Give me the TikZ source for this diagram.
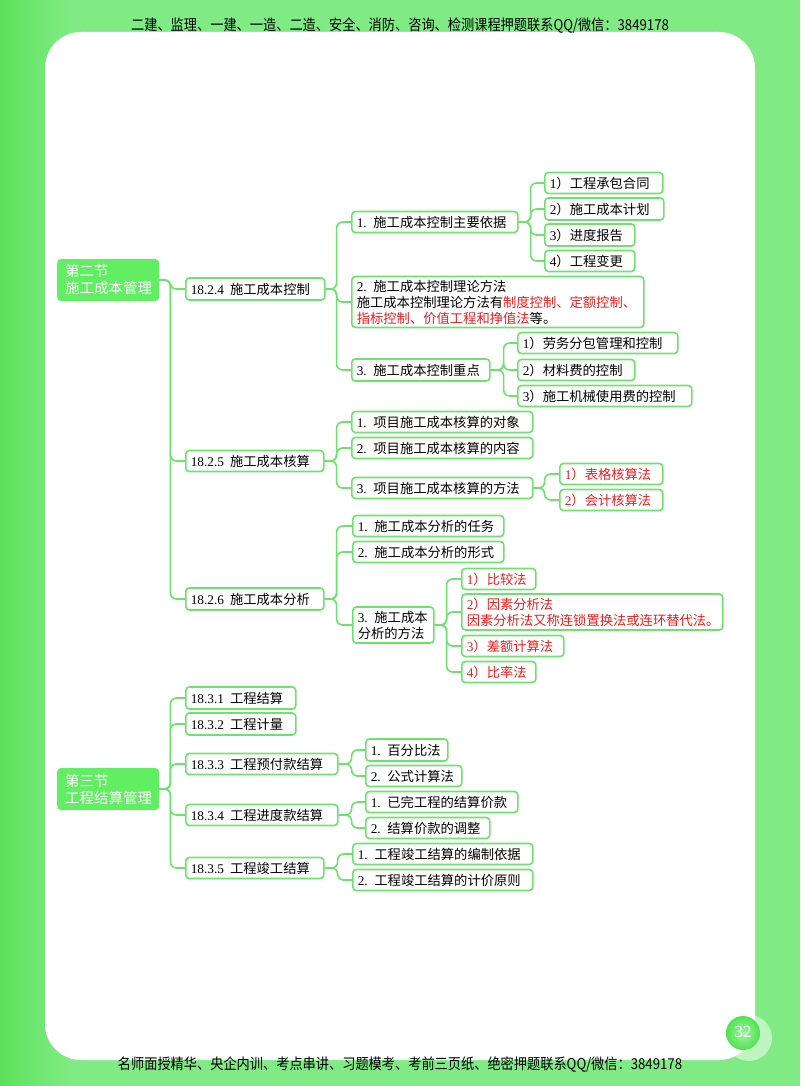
\documentclass[tikz,border=0pt]{standalone}
\usepackage{fontspec}
\setmainfont{Noto Sans CJK SC}
\newfontfamily\lat{Liberation Serif}
\usetikzlibrary{calc}
\definecolor{bgg}{RGB}{128,235,132}
\definecolor{bgd}{RGB}{92,225,92}
\definecolor{bd}{RGB}{108,228,108}
\definecolor{lvz}{RGB}{98,238,98}
\definecolor{pgc}{RGB}{80,226,80}
\definecolor{rd}{RGB}{238,30,30}
\pgfdeclarelayer{back}
\pgfdeclarelayer{lines}
\pgfsetlayers{back,lines,main}
\newcommand\rtx[1]{\textcolor{rd}{#1}}
\newcommand\linkto[3]{\draw[cn] (#1.east) -- ++(#3,0) |- (#2.west);}
\tikzset{
  bx/.style={draw=bd, fill=white, line width=1.6pt, rounded corners=3.5pt, anchor=west,
    align=left, inner xsep=5pt, inner ysep=0pt, text=black,
    font=\fontsize{13.3}{16}\selectfont},
  rbx/.style={bx, text=rd},
  top/.style={fill=lvz, rounded corners=4pt, anchor=west, align=left, inner xsep=8pt,
    inner ysep=0pt, text=white, font=\fontsize{14.5}{17}\selectfont},
  cn/.style={draw=bd, line width=1.6pt, rounded corners=6pt},
  band/.style={font=\fontsize{15}{15}\selectfont, xscale=0.88, text=black}
}
\begin{document}
\begin{tikzpicture}[x=1pt,y=-1pt]
\useasboundingbox (0,0) rectangle (800,1086);
\begin{pgfonlayer}{back}
% background
\fill[bgg] (0,0) rectangle (800,1086);
\shade[left color=bgd, right color=bgg] (0,0) rectangle (70,1086);
\fill[white] (45,32) [rounded corners=36pt] rectangle (755,1060);
% page number
\fill[white, opacity=0.5] (749,1038) circle (23);
\shade[inner color=lvz!60!white, outer color=pgc] (743,1033) circle (17);
\end{pgfonlayer}
% header / footer
\node[band] (hdr) at (400,25) {二建、监理、一建、一造、二造、安全、消防、咨询、检测课程押题联系QQ/微信：3849178};
\node[band] (ftr) at (400,1064) {名师面授精华、央企内训、考点串讲、习题模考、考前三页纸、绝密押题联系QQ/微信：3849178};
\node[text=white, font=\lat\fontsize{17}{17}\selectfont] (pg) at (743,1032) {32};

% ===== 第二节 =====
\node[top, text width=86pt, minimum height=42pt] (s2) at (57,280) {第二节\\施工成本管理};
\node[bx, text width=129pt, minimum height=22pt] (a1) at (185,289) {{\lat 18.2.4}\hspace{6pt}施工成本控制};
\node[bx, text width=128pt, minimum height=21pt] (a2) at (185,461) {{\lat 18.2.5}\hspace{6pt}施工成本核算};
\node[bx, text width=128pt, minimum height=22pt] (a3) at (185,599) {{\lat 18.2.6}\hspace{6pt}施工成本分析};

\node[bx, text width=156pt, minimum height=21pt] (b1) at (351,222) {{\lat 1.} 施工成本控制主要依据};
\node[bx, text width=282pt, minimum height=51pt] (b2) at (351,302) {{\lat 2.} 施工成本控制理论方法\\施工成本控制理论方法有\rtx{制度控制、定额控制、}\\\rtx{指标控制、价值工程和挣值法}等。};
\node[bx, text width=128pt, minimum height=22pt] (b3) at (351,370) {{\lat 3.} 施工成本控制重点};

\node[bx, text width=108pt, minimum height=21pt] (c1) at (544,183) {{\lat 1}）工程承包合同};
\node[bx, text width=109pt, minimum height=22pt] (c2) at (544,209) {{\lat 2}）施工成本计划};
\node[bx, text width=80pt, minimum height=22pt] (c3) at (544,235) {{\lat 3}）进度报告};
\node[bx, text width=80pt, minimum height=21pt] (c4) at (544,261) {{\lat 4}）工程变更};

\node[bx, text width=150pt, minimum height=21pt] (d1) at (517,343) {{\lat 1}）劳务分包管理和控制};
\node[bx, text width=107pt, minimum height=21pt] (d2) at (517,370) {{\lat 2}）材料费的控制};
\node[bx, text width=164pt, minimum height=21pt] (d3) at (517,396) {{\lat 3}）施工机械使用费的控制};

\node[bx, text width=171pt, minimum height=21pt] (e1) at (351,422) {{\lat 1.} 项目施工成本核算的对象};
\node[bx, text width=171pt, minimum height=21pt] (e2) at (351,448) {{\lat 2.} 项目施工成本核算的内容};
\node[bx, text width=171pt, minimum height=21pt] (e3) at (351,488) {{\lat 3.} 项目施工成本核算的方法};

\node[rbx, text width=93pt, minimum height=21pt] (f1) at (559,474) {{\lat 1}）表格核算法};
\node[rbx, text width=93pt, minimum height=21pt] (f2) at (559,500) {{\lat 2}）会计核算法};

\node[bx, text width=141pt, minimum height=21pt] (g1) at (352,526) {{\lat 1.} 施工成本分析的任务};
\node[bx, text width=141pt, minimum height=21pt] (g2) at (352,552) {{\lat 2.} 施工成本分析的形式};
\node[bx, text width=71pt, minimum height=36pt] (g3) at (352,625) {{\lat 3.} 施工成本\\分析的方法};

\node[rbx, text width=64pt, minimum height=21pt] (h1) at (461,579) {{\lat 1}）比较法};
\node[rbx, text width=251pt, minimum height=36pt] (h2) at (461,612) {{\lat 2}）因素分析法\\因素分析法又称连锁置换法或连环替代法。};
\node[rbx, text width=92pt, minimum height=21pt] (h3) at (461,646) {{\lat 3}）差额计算法};
\node[rbx, text width=64pt, minimum height=21pt] (h4) at (461,672) {{\lat 4}）比率法};

% ===== 第三节 =====
\node[top, text width=86pt, minimum height=42pt] (s3) at (57,789) {第三节\\工程结算管理};
\node[bx, text width=100pt, minimum height=22pt] (k1) at (185,698) {{\lat 18.3.1}\hspace{6pt}工程结算};
\node[bx, text width=100pt, minimum height=22pt] (k2) at (185,724) {{\lat 18.3.2}\hspace{6pt}工程计量};
\node[bx, text width=142pt, minimum height=21pt] (k3) at (185,764) {{\lat 18.3.3}\hspace{6pt}工程预付款结算};
\node[bx, text width=142pt, minimum height=21pt] (k4) at (185,815) {{\lat 18.3.4}\hspace{6pt}工程进度款结算};
\node[bx, text width=128pt, minimum height=21pt] (k5) at (185,868) {{\lat 18.3.5}\hspace{6pt}工程竣工结算};

\node[bx, text width=72pt, minimum height=22pt] (m1) at (365,750) {{\lat 1.} 百分比法};
\node[bx, text width=86pt, minimum height=21pt] (m2) at (365,776) {{\lat 2.} 公式计算法};
\node[bx, text width=142pt, minimum height=21pt] (m3) at (365,802) {{\lat 1.} 已完工程的结算价款};
\node[bx, text width=114pt, minimum height=21pt] (m4) at (365,828) {{\lat 2.} 结算价款的调整};
\node[bx, text width=170pt, minimum height=21pt] (n1) at (352,854) {{\lat 1.} 工程竣工结算的编制依据};
\node[bx, text width=170pt, minimum height=21pt] (n2) at (352,880) {{\lat 2.} 工程竣工结算的计价原则};

% ===== connectors =====
\begin{pgfonlayer}{lines}
\linkto{s2}{a1}{11}\linkto{s2}{a2}{11}\linkto{s2}{a3}{11}
\linkto{a1}{b1}{11}\linkto{a1}{b2}{11}\linkto{a1}{b3}{11}
\linkto{b1}{c1}{12}\linkto{b1}{c2}{12}\linkto{b1}{c3}{12}\linkto{b1}{c4}{12}
\linkto{b3}{d1}{13}\linkto{b3}{d2}{13}\linkto{b3}{d3}{13}
\linkto{a2}{e1}{12}\linkto{a2}{e2}{12}\linkto{a2}{e3}{12}
\linkto{e3}{f1}{11}\linkto{e3}{f2}{11}
\linkto{a3}{g1}{12}\linkto{a3}{g2}{12}\linkto{a3}{g3}{12}
\linkto{g3}{h1}{12}\linkto{g3}{h2}{12}\linkto{g3}{h3}{12}\linkto{g3}{h4}{12}
\linkto{s3}{k1}{11}\linkto{s3}{k2}{11}\linkto{s3}{k3}{11}\linkto{s3}{k4}{11}\linkto{s3}{k5}{11}
\linkto{k3}{m1}{13}\linkto{k3}{m2}{13}
\linkto{k4}{m3}{13}\linkto{k4}{m4}{13}
\linkto{k5}{n1}{13}\linkto{k5}{n2}{13}
\end{pgfonlayer}
\end{tikzpicture}
\end{document}
